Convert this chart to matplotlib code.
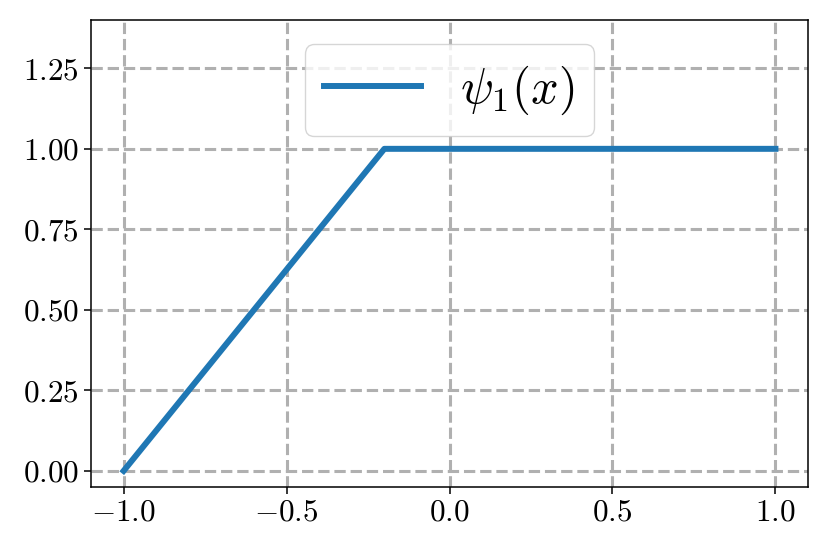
import matplotlib
matplotlib.use("Agg")
import matplotlib.pyplot as plt
import numpy as np

# Data: piecewise linear psi_1
x = [-1.0, -0.2, 1.0]
psi1 = [0.0, 1.0, 1.0]

plt.rcParams['font.family'] = 'serif'
plt.rcParams['font.serif'] = ['cmr10']
plt.rcParams['mathtext.fontset'] = 'cm'
plt.rcParams['axes.formatter.use_mathtext'] = True

fig = plt.figure(figsize=(8.29, 5.53), dpi=100)
ax = fig.add_axes([0.1098, 0.1194, 0.8649, 0.8444])

ax.plot(x, psi1, color='#1f77b4', linewidth=4.3, label=r'$\psi_1(x)$')

ax.set_xlim(-1.1, 1.1)
ax.set_ylim(-0.05, 1.4)
ax.set_xticks([-1.0, -0.5, 0.0, 0.5, 1.0])
ax.set_yticks([0.0, 0.25, 0.5, 0.75, 1.0, 1.25])
ax.tick_params(labelsize=22.5, width=1.1, length=5)
for s in ax.spines.values():
    s.set_linewidth(1.1)

ax.grid(True, linestyle='--', color='#b0b0b0', linewidth=2.2)
ax.set_axisbelow(True)

ax.legend(loc='upper center', fontsize=35, framealpha=0.8)

fig.savefig('out.png', dpi=100)
